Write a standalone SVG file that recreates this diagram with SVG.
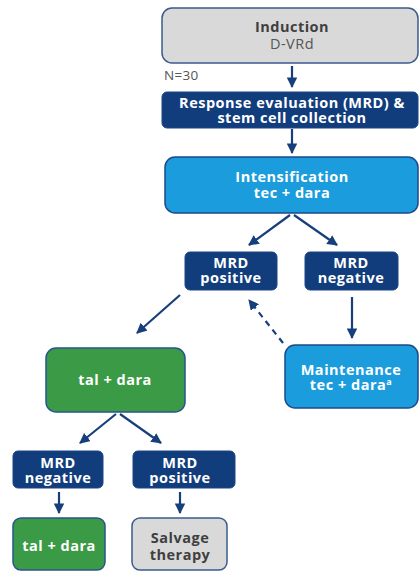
<svg xmlns="http://www.w3.org/2000/svg" width="419" height="571" viewBox="0 0 419 571">
<defs>
<marker id="ah" viewBox="0 0 10 10" refX="9" refY="5" markerWidth="4.8" markerHeight="4.8" markerUnits="strokeWidth" orient="auto">
<path d="M0,0 L10,5 L0,10 z" fill="#173f7c"/>
</marker>
<style>
text{font-family:"Open Sans","Liberation Sans",sans-serif;font-weight:bold;font-size:14.5px;letter-spacing:0.5px;text-anchor:middle;fill:#fff}
.grey{fill:#d9d9d9;stroke:#3b5a8e;stroke-width:1.5}
.navy{fill:#123d7c;stroke:#1d4585;stroke-width:1}
.lblue{fill:#1b9cdc;stroke:#1d4a8a;stroke-width:1.5}
.green{fill:#3b9a45;stroke:#27568f;stroke-width:1.5}
.dk{fill:#3f3f3f}
.reg{font-weight:normal;fill:#555}
.con{stroke:#173f7c;stroke-width:2.2;fill:none;marker-end:url(#ah)}
</style>
</defs>
<g id="induction">
<rect class="grey" x="162" y="8" width="256" height="55" rx="10"/>
<text class="dk" x="292" y="32">Induction</text>
<text class="dk reg" x="292" y="49">D-VRd</text>
</g>
<g id="n30"><text class="dk reg" x="164" y="80" style="text-anchor:start;font-size:13.5px;letter-spacing:0.3px">N=30</text></g>
<g id="response">
<rect class="navy" x="162" y="92" width="256" height="36" rx="5"/>
<text x="292" y="108">Response evaluation (MRD) &amp;</text>
<text x="292" y="123">stem cell collection</text>
</g>
<g id="intensification">
<rect class="lblue" x="165" y="157" width="253" height="56" rx="10"/>
<text x="292" y="182">Intensification</text>
<text x="292" y="198">tec + dara</text>
</g>
<g id="mrdpos1">
<rect class="navy" x="185" y="252" width="92" height="38" rx="5"/>
<text x="231" y="268">MRD</text>
<text x="231" y="283">positive</text>
</g>
<g id="mrdneg1">
<rect class="navy" x="305" y="252" width="93" height="38" rx="5"/>
<text x="351" y="268">MRD</text>
<text x="351" y="283">negative</text>
</g>
<g id="taldara1">
<rect class="green" x="46" y="348" width="139" height="64" rx="10"/>
<text x="115" y="385">tal + dara</text>
</g>
<g id="maintenance">
<rect class="lblue" x="285" y="345" width="133" height="63" rx="10"/>
<text x="351" y="375">Maintenance</text>
<text x="351" y="390">tec + dara<tspan font-size="9" dy="-5">a</tspan></text>
</g>
<g id="mrdneg2">
<rect class="navy" x="13" y="451" width="90" height="37" rx="5"/>
<text x="58" y="468">MRD</text>
<text x="58" y="483">negative</text>
</g>
<g id="mrdpos2">
<rect class="navy" x="133" y="451" width="102" height="37" rx="5"/>
<text x="180" y="468">MRD</text>
<text x="180" y="483">positive</text>
</g>
<g id="taldara2">
<rect class="green" x="13" y="518" width="92" height="52" rx="8"/>
<text x="59" y="551">tal + dara</text>
</g>
<g id="salvage">
<rect class="grey" x="132" y="518" width="95" height="52" rx="8"/>
<text class="dk" x="180" y="543">Salvage</text>
<text class="dk" x="180" y="560">therapy</text>
</g>
<g id="connectors">
<line class="con" x1="292" y1="66" x2="292" y2="87"/>
<line class="con" x1="292" y1="129" x2="292" y2="153"/>
<line class="con" x1="290" y1="215" x2="249" y2="245"/>
<line class="con" x1="294" y1="215" x2="337" y2="245"/>
<line class="con" x1="180" y1="295" x2="137" y2="333"/>
<line class="con" x1="283" y1="343" x2="249" y2="300" stroke-dasharray="6,5"/>
<line class="con" x1="352" y1="297" x2="352" y2="338"/>
<line class="con" x1="116" y1="414" x2="80" y2="443"/>
<line class="con" x1="120" y1="414" x2="161" y2="443"/>
<line class="con" x1="59" y1="492" x2="59" y2="513"/>
<line class="con" x1="180" y1="492" x2="180" y2="513"/>
</g>
</svg>
